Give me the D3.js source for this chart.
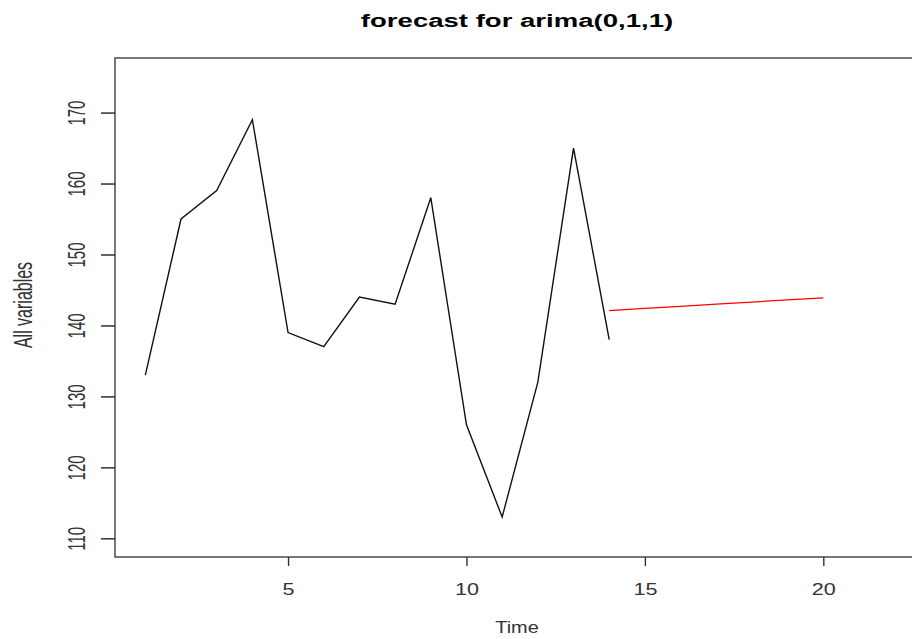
<!DOCTYPE html>
<html>
<head>
<meta charset="utf-8">
<script src="https://cdn.jsdelivr.net/npm/d3@7"></script>
<style>
	body { margin: 0; background: #fff; }
	svg { display: block; font-family: Arial, 'Liberation Sans', sans-serif; }
</style>
</head>
<body>
<script>
const time = [1, 2, 3, 4, 5, 6, 7, 8, 9, 10, 11, 12, 13, 14]
const values = [133, 155, 159, 169, 139, 137, 144, 143, 158, 126, 113, 132, 165, 138]
const forecastTime = [14, 15, 16, 17, 18, 19, 20]
const forecastValues = [142.1, 142.4, 142.7, 143.0, 143.3, 143.6, 143.9]
const xTicks = [5, 10, 15, 20]
const yTicks = [110, 120, 130, 140, 150, 160, 170]
const title = 'forecast for arima(0,1,1)'
const xLabel = 'Time'
const yLabel = 'All variables'

const width = 912
const height = 639
const box = { left: 115, top: 58, bottom: 557, right: 925 }

const svg = d3.select('body').append('svg')
	.attr('width', width)
	.attr('height', height)

const x = d3.scaleLinear().domain([0.15, 22.85]).range([box.left, box.right])
const y = d3.scaleLinear().domain([107.37, 177.69]).range([box.bottom, box.top])

// plot frame (right side runs off the image)
svg.append('rect')
	.attr('x', box.left)
	.attr('y', box.top)
	.attr('width', box.right - box.left)
	.attr('height', box.bottom - box.top)
	.attr('fill', 'none')
	.attr('stroke', '#555')
	.attr('stroke-width', 1.6)

const xAxis = svg.append('g')
	.attr('transform', `translate(0, ${box.bottom})`)
	.call(d3.axisBottom(x).tickValues(xTicks).tickSize(9).tickFormat(d3.format('d')))
xAxis.select('.domain').remove()
xAxis.selectAll('line').attr('stroke', '#333').attr('stroke-width', 1.4)
xAxis.selectAll('text')
	.attr('y', 0).attr('dy', 0)
	.attr('fill', '#333')
	.style('font-size', '17px')
	.attr('transform', 'translate(0, 38) scale(1.27, 1)')

const yAxis = svg.append('g')
	.attr('transform', `translate(${box.left}, 0)`)
	.call(d3.axisLeft(y).tickValues(yTicks).tickSize(14).tickFormat(d3.format('d')))
yAxis.select('.domain').remove()
yAxis.selectAll('line').attr('stroke', '#222').attr('stroke-width', 1.4)
yAxis.selectAll('text')
	.attr('x', 0).attr('y', 0).attr('dy', 0)
	.attr('text-anchor', 'middle')
	.attr('fill', '#333')
	.style('font-size', '15px')
	.attr('transform', 'translate(-30, 0) scale(1.6, 1) rotate(-90)')

const line = d3.line()
	.x(d => x(d[0]))
	.y(d => y(d[1]))

svg.append('path')
	.datum(d3.zip(time, values))
	.attr('fill', 'none')
	.attr('stroke', '#111')
	.attr('stroke-width', 1.4)
	.attr('d', line)

svg.append('path')
	.datum(d3.zip(forecastTime, forecastValues))
	.attr('fill', 'none')
	.attr('stroke', '#ff0000')
	.attr('stroke-width', 1.2)
	.attr('d', line)

svg.append('text')
	.attr('transform', 'translate(517, 27) scale(1.45, 1)')
	.attr('text-anchor', 'middle')
	.style('font-size', '19px')
	.style('font-weight', 'bold')
	.text(title)

svg.append('text')
	.attr('transform', 'translate(517, 633) scale(1.17, 1)')
	.attr('text-anchor', 'middle')
	.attr('fill', '#333')
	.style('font-size', '17px')
	.text(xLabel)

svg.append('text')
	.attr('transform', 'translate(31.5, 305) scale(1.6, 1) rotate(-90)')
	.attr('text-anchor', 'middle')
	.attr('fill', '#333')
	.style('font-size', '16px')
	.text(yLabel)
</script>
</body>
</html>
